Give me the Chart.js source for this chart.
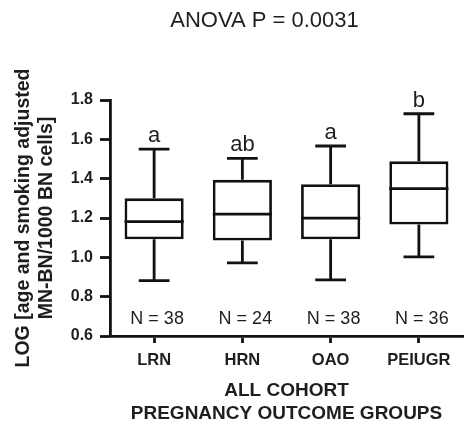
<!DOCTYPE html>
<html><head><meta charset="utf-8">
<script src="https://cdn.jsdelivr.net/npm/chart.js@4/dist/chart.umd.min.js"></script>
<style>html,body{margin:0;padding:0;background:#fff}#wrap{width:467px;height:431px;position:relative}</style>
</head><body><div id="wrap"><canvas id="c" width="467" height="431"></canvas></div>
<script>
const categories = ['LRN', 'HRN', 'OAO', 'PEIUGR'];
const whiskerLow = [0.882, 0.972, 0.885, 1.002];
const q1 = [1.092, 1.085, 1.092, 1.167];
const median = [1.182, 1.220, 1.199, 1.349];
const q3 = [1.300, 1.394, 1.372, 1.488];
const whiskerHigh = [1.550, 1.503, 1.566, 1.730];
const groupLetters = ['a', 'ab', 'a', 'b'];
const sampleSizes = [38, 24, 38, 36];
const yTicks = [0.6, 0.8, 1.0, 1.2, 1.4, 1.6, 1.8];
const titleText = 'ANOVA P = 0.0031';
const yTitle = ['LOG [age and smoking adjusted', 'MN-BN/1000 BN cells]'];
const xTitle = ['ALL COHORT', 'PREGNANCY OUTCOME GROUPS'];

const FONT = "'Liberation Sans', Arial, sans-serif";
const INK = '#111';
const TEXT = '#1e1e1e';
const LW = 2.8;

const boxExtras = {
  id: 'boxExtras',
  afterDatasetsDraw(chart) {
    const ctx = chart.ctx;
    const ys = chart.scales.y;
    const meta = chart.getDatasetMeta(0);
    ctx.save();
    ctx.strokeStyle = INK;
    ctx.lineWidth = LW;
    ctx.lineCap = 'butt';
    meta.data.forEach((bar, i) => {
      const x = bar.x, w = bar.width;
      const cw = w * 0.52;
      const pHi = ys.getPixelForValue(whiskerHigh[i]);
      const pLo = ys.getPixelForValue(whiskerLow[i]);
      const pQ1 = ys.getPixelForValue(q1[i]);
      const pQ3 = ys.getPixelForValue(q3[i]);
      const pMed = ys.getPixelForValue(median[i]);
      ctx.beginPath();
      ctx.moveTo(x, pQ3); ctx.lineTo(x, pHi);
      ctx.moveTo(x - cw / 2, pHi); ctx.lineTo(x + cw / 2, pHi);
      ctx.moveTo(x, pQ1); ctx.lineTo(x, pLo);
      ctx.moveTo(x - cw / 2, pLo); ctx.lineTo(x + cw / 2, pLo);
      ctx.moveTo(x - w / 2, pMed); ctx.lineTo(x + w / 2, pMed);
      ctx.stroke();
      ctx.fillStyle = TEXT;
      ctx.textAlign = 'center';
      ctx.textBaseline = 'alphabetic';
      ctx.font = '22px ' + FONT;
      ctx.fillText(groupLetters[i], x, pHi - 7);
      ctx.font = '18px ' + FONT;
      ctx.fillText('N = ' + sampleSizes[i], x + 3, chart.chartArea.bottom - 12);
    });
    ctx.restore();
  },
  afterDraw(chart) {
    const ctx = chart.ctx;
    const a = chart.chartArea;
    ctx.save();
    ctx.fillStyle = TEXT;
    ctx.font = '22px ' + FONT;
    ctx.textAlign = 'center';
    ctx.textBaseline = 'alphabetic';
    ctx.fillText(titleText, (a.left + a.right) / 2 - 22, 27);
    ctx.restore();
  }
};

new Chart(document.getElementById('c'), {
  type: 'bar',
  data: {
    labels: categories,
    datasets: [{
      data: q1.map((v, i) => [v, q3[i]]),
      backgroundColor: '#ffffff',
      borderColor: INK,
      borderWidth: LW,
      borderSkipped: false,
      barPercentage: 0.67,
      categoryPercentage: 1.0
    }]
  },
  options: {
    responsive: false,
    animation: false,
    devicePixelRatio: 1,
    layout: { padding: { top: 100, right: 4, left: 0, bottom: 0 } },
    plugins: { legend: { display: false }, tooltip: { enabled: false }, title: { display: false } },
    scales: {
      x: {
        offset: true,
        grid: { display: true, drawOnChartArea: false, drawTicks: true, tickLength: 7, tickColor: INK, tickWidth: LW, offset: false },
        border: { display: true, color: INK, width: LW },
        ticks: { color: TEXT, padding: 8, font: { family: FONT, size: 16.5, weight: 'bold' } },
        title: { display: true, text: xTitle, color: TEXT, padding: { top: 0, bottom: 6 }, font: { family: FONT, size: 19, weight: 'bold', lineHeight: 1.2 } },
        afterFit(s) { s.height = 95; }
      },
      y: {
        min: 0.6, max: 1.8,
        afterBuildTicks(s) { s.ticks = yTicks.map(v => ({ value: v })); },
        grid: { display: true, drawOnChartArea: false, drawTicks: true, tickLength: 10, tickColor: INK, tickWidth: LW },
        border: { display: true, color: INK, width: LW },
        ticks: { color: TEXT, padding: 7, font: { family: FONT, size: 16, weight: 'bold' }, callback: v => Number(v).toFixed(1) },
        title: { display: true, text: yTitle, color: TEXT, padding: { top: 12, bottom: 0 }, font: { family: FONT, size: 19.5, weight: 'bold', lineHeight: 1.18 } },
        afterFit(s) { s.width = 110; }
      }
    }
  },
  plugins: [boxExtras]
});
</script>
</body></html>
